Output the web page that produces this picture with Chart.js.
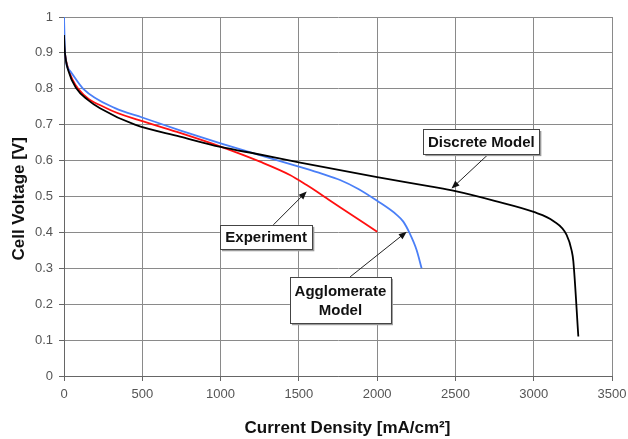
<!DOCTYPE html>
<html>
<head>
<meta charset="utf-8">
<script src="https://cdn.jsdelivr.net/npm/chart.js@4/dist/chart.umd.min.js"></script>
<style>
html,body{margin:0;padding:0;background:#fff;}
#wrap{width:628px;height:439px;position:relative;}
</style>
</head>
<body>
<div id="wrap"><canvas id="c" width="628" height="439"></canvas></div>
<script>
// ---- Data ----
const xTicks = [0, 500, 1000, 1500, 2000, 2500, 3000, 3500];
const yTicks = [0, 0.1, 0.2, 0.3, 0.4, 0.5, 0.6, 0.7, 0.8, 0.9, 1];

const discreteX = [0, 3, 6, 28, 81, 150, 230, 453, 741, 1000, 1250, 1500, 2000, 2338, 2500, 2750, 3000, 3125, 3210, 3242, 3253, 3285];
const discreteY = [0.95, 0.92, 0.90, 0.85, 0.80, 0.77, 0.746, 0.70, 0.667, 0.638, 0.617, 0.595, 0.554, 0.528, 0.515, 0.488, 0.457, 0.432, 0.393, 0.35, 0.32, 0.11];

const agglomX = [0, 3, 6, 38, 123, 326, 500, 750, 1000, 1250, 1500, 1650, 1763, 1880, 2000, 2125, 2167, 2205, 2252, 2284];
const agglomY = [1.0, 0.95, 0.90, 0.85, 0.80, 0.746, 0.72, 0.683, 0.648, 0.615, 0.583, 0.563, 0.546, 0.521, 0.488, 0.449, 0.43, 0.40, 0.351, 0.30];

const experX = [0, 3, 32, 91, 272, 506, 741, 1000, 1252, 1443, 1550, 1614, 1678, 1763, 2000];
const experY = [0.93, 0.91, 0.85, 0.80, 0.746, 0.709, 0.677, 0.639, 0.597, 0.560, 0.532, 0.514, 0.495, 0.47, 0.402];

const seriesNames = ['Discrete Model', 'Agglomerate Model', 'Experiment'];

// Callout labels: text lines, box corners (data units), arrow start and tip (data units)
const callouts = [
  {lines: ['Discrete Model'], box: [2295, 0.688, 3036, 0.618], from: [2706, 0.616], to: [2475, 0.522]},
  {lines: ['Experiment'], box: [996, 0.421, 1586, 0.353], from: [1337, 0.421], to: [1550, 0.514]},
  {lines: ['Agglomerate', 'Model'], box: [1443, 0.276, 2088, 0.147], from: [1827, 0.276], to: [2189, 0.402]}
];

function pts(xs, ys){ return xs.map((x,i)=>({x:x, y:ys[i]})); }

const calloutPlugin = {
  id: 'callouts',
  afterDatasetsDraw(chart){
    const ctx = chart.ctx, xs = chart.scales.x, ys = chart.scales.y;
    ctx.save();
    callouts.forEach(c => {
      const x1 = xs.getPixelForValue(c.box[0]), y1 = ys.getPixelForValue(c.box[1]);
      const x2 = xs.getPixelForValue(c.box[2]), y2 = ys.getPixelForValue(c.box[3]);
      const ax = xs.getPixelForValue(c.from[0]), ay = ys.getPixelForValue(c.from[1]);
      const tx = xs.getPixelForValue(c.to[0]), ty = ys.getPixelForValue(c.to[1]);
      const ang = Math.atan2(ty-ay, tx-ax);
      const hl = 8, hw = 3.2;
      ctx.strokeStyle = '#222'; ctx.fillStyle = '#111'; ctx.lineWidth = 1;
      ctx.beginPath(); ctx.moveTo(ax, ay);
      ctx.lineTo(tx - Math.cos(ang)*hl*0.8, ty - Math.sin(ang)*hl*0.8); ctx.stroke();
      ctx.beginPath();
      ctx.moveTo(tx, ty);
      ctx.lineTo(tx - Math.cos(ang)*hl - Math.sin(ang)*hw, ty - Math.sin(ang)*hl + Math.cos(ang)*hw);
      ctx.lineTo(tx - Math.cos(ang)*hl + Math.sin(ang)*hw, ty - Math.sin(ang)*hl - Math.cos(ang)*hw);
      ctx.closePath(); ctx.fill();
      ctx.fillStyle = '#9a9a9a';
      ctx.fillRect(x1+2, y1+2, x2-x1, y2-y1);
      ctx.fillStyle = '#fff';
      ctx.fillRect(x1, y1, x2-x1, y2-y1);
      ctx.strokeStyle = '#444'; ctx.lineWidth = 1;
      ctx.strokeRect(Math.round(x1)+0.5, Math.round(y1)+0.5, Math.round(x2-x1), Math.round(y2-y1));
      ctx.fillStyle = '#111';
      ctx.font = 'bold 15px "Liberation Sans", Arial, sans-serif';
      ctx.textAlign = 'center'; ctx.textBaseline = 'middle';
      const cx = (x1+x2)/2, cy = (y1+y2)/2, lh = 19;
      c.lines.forEach((t,i)=>{
        ctx.fillText(t, cx, cy + (i - (c.lines.length-1)/2)*lh + 1);
      });
    });
    ctx.restore();
  }
};

const bg = {
  id: 'bg',
  beforeDraw(chart){ const ctx = chart.ctx; ctx.save(); ctx.fillStyle='#fff'; ctx.fillRect(0,0,chart.width,chart.height); ctx.restore(); }
};

const FONT = '"Liberation Sans", Arial, sans-serif';

new Chart(document.getElementById('c'), {
  type: 'line',
  data: {
    datasets: [
      {label: seriesNames[0], data: pts(discreteX, discreteY), borderColor: '#000000', borderWidth: 1.8, pointRadius: 0, cubicInterpolationMode: 'monotone', fill: false},
      {label: seriesNames[1], data: pts(agglomX, agglomY), borderColor: '#4a7ff7', borderWidth: 1.8, pointRadius: 0, cubicInterpolationMode: 'monotone', fill: false},
      {label: seriesNames[2], data: pts(experX, experY), borderColor: '#ff1010', borderWidth: 1.8, pointRadius: 0, cubicInterpolationMode: 'monotone', fill: false}
    ]
  },
  options: {
    responsive: false,
    animation: false,
    events: [],
    layout: {padding: {left: 0, right: 16, top: 17, bottom: 0}},
    plugins: {legend: {display: false}, tooltip: {enabled: false}},
    scales: {
      x: {
        type: 'linear', min: 0, max: 3500,
        afterBuildTicks(s){ s.ticks = xTicks.map(v=>({value:v})); },
        afterFit(s){ s.height = 63; s.paddingRight = 0; s.paddingLeft = 0; },
        grid: {color: '#8a8a8a', lineWidth: 1, tickLength: 5, tickColor: '#666'},
        border: {color: '#666', width: 1},
        ticks: {color: '#555', font: {family: FONT, size: 13}, padding: 6, maxRotation: 0, callback: v => String(v)},
        title: {display: true, text: '    Current Density [mA/cm²]', color: '#111', font: {family: FONT, size: 17, weight: 'bold'}, padding: {top: 4, bottom: 0}}
      },
      y: {
        type: 'linear', min: 0, max: 1,
        afterBuildTicks(s){ s.ticks = yTicks.map(v=>({value:v})); },
        afterFit(s){ s.width = 64; },
        grid: {color: '#8a8a8a', lineWidth: 1, tickLength: 5, tickColor: '#666'},
        border: {color: '#666', width: 1},
        ticks: {color: '#555', font: {family: FONT, size: 13}, padding: 6, callback: v => String(+(+v).toFixed(1))},
        title: {display: true, text: 'Cell Voltage [V] ', color: '#111', font: {family: FONT, size: 17, weight: 'bold'}, padding: {top: 9, bottom: 0}}
      }
    }
  },
  plugins: [bg, calloutPlugin]
});
</script>
</body>
</html>
